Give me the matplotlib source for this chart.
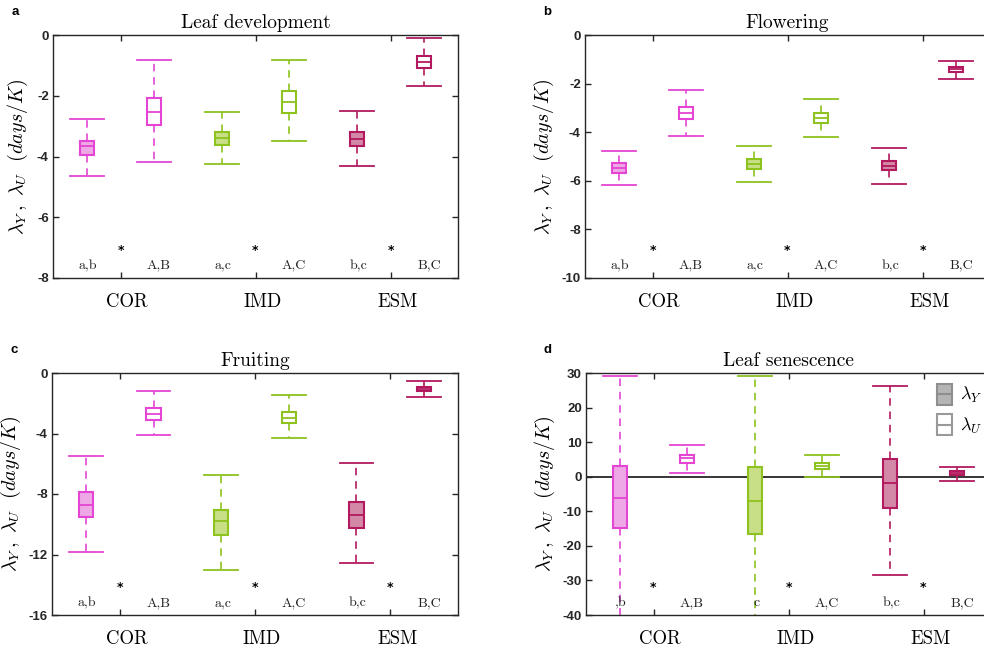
import matplotlib
matplotlib.use("Agg")
import matplotlib.pyplot as plt
from matplotlib.patches import Rectangle, Patch
from matplotlib.lines import Line2D
from matplotlib.legend_handler import HandlerBase
import matplotlib.transforms as mtransforms

plt.rcParams['mathtext.fontset'] = 'cm'
plt.rcParams['axes.unicode_minus'] = False

# Regions, one box pair (lambda_Y, lambda_U) per region
regions = ['COR', 'IMD', 'ESM']

# Box order: COR-Y, COR-U, IMD-Y, IMD-U, ESM-Y, ESM-U
leaf_dev_low  = [-4.64, -4.19, -4.25, -3.50, -4.30, -1.67]
leaf_dev_q1   = [-3.96, -2.96, -3.62, -2.57, -3.65, -1.10]
leaf_dev_med  = [-3.67, -2.52, -3.40, -2.20, -3.43, -0.89]
leaf_dev_q3   = [-3.48, -2.06, -3.18, -1.84, -3.19, -0.68]
leaf_dev_high = [-2.77, -0.82, -2.53, -0.82, -2.51, -0.11]

flower_low  = [-6.17, -4.16, -6.06, -4.18, -6.12, -1.80]
flower_q1   = [-5.67, -3.46, -5.51, -3.61, -5.57, -1.52]
flower_med  = [-5.49, -3.22, -5.31, -3.40, -5.38, -1.41]
flower_q3   = [-5.28, -2.98, -5.12, -3.22, -5.20, -1.33]
flower_high = [-4.76, -2.26, -4.57, -2.65, -4.63, -1.06]

fruit_low  = [-11.85, -4.07, -13.05, -4.31, -12.59, -1.58]
fruit_q1   = [-9.52, -3.08, -10.70, -3.32, -10.26, -1.21]
fruit_med  = [-8.70, -2.68, -9.80, -2.95, -9.36, -1.05]
fruit_q3   = [-7.85, -2.31, -9.08, -2.55, -8.51, -0.92]
fruit_high = [-5.49, -1.21, -6.73, -1.43, -5.93, -0.55]

senes_low  = [-45.0, 1.15, -46.0, -0.19, -28.56, -1.15]
senes_q1   = [-14.9, 4.04, -16.5, 2.12, -9.04, 0.38]
senes_med  = [-6.06, 5.38, -6.92, 2.98, -1.83, 1.06]
senes_q3   = [2.98, 6.35, 2.79, 3.85, 5.19, 1.54]
senes_high = [29.1, 9.23, 29.0, 6.15, 26.25, 2.88]

# Group letters below the boxes
letters_Y = ['a,b', 'a,c', 'b,c']
letters_U = ['A,B', 'A,C', 'B,C']
letters_Y_senes = [',b', 'c', 'b,c']

region_edge = ['#E445D4', '#8DC21F', '#B3195E']
region_fill = ['#EEA8E6', '#C8DF86', '#D488A8']

panels = [
    dict(tag='a', title='Leaf development',
         stats=(leaf_dev_low, leaf_dev_q1, leaf_dev_med, leaf_dev_q3, leaf_dev_high),
         ylim=(-8, 0), yticks=[-8, -6, -4, -2, 0], lettersY=letters_Y,
         pos=(53, 35, 405, 243), labx=23),
    dict(tag='b', title='Flowering',
         stats=(flower_low, flower_q1, flower_med, flower_q3, flower_high),
         ylim=(-10, 0), yticks=[-10, -8, -6, -4, -2, 0], lettersY=letters_Y,
         pos=(585, 35, 405, 243), labx=29),
    dict(tag='c', title='Fruiting',
         stats=(fruit_low, fruit_q1, fruit_med, fruit_q3, fruit_high),
         ylim=(-16, 0), yticks=[-16, -12, -8, -4, 0], lettersY=letters_Y,
         pos=(52, 373, 406, 242), labx=29),
    dict(tag='d', title='Leaf senescence',
         stats=(senes_low, senes_q1, senes_med, senes_q3, senes_high),
         ylim=(-40, 30), yticks=[-40, -30, -20, -10, 0, 10, 20, 30], lettersY=letters_Y_senes,
         pos=(586, 373, 405, 242), labx=29),
]

W, H = 984, 655
fig = plt.figure(figsize=(W / 100, H / 100), dpi=100)


class BoxLegendHandler(HandlerBase):
    def create_artists(self, legend, orig_handle, xdescent, ydescent,
                       width, height, fontsize, trans):
        fc = orig_handle.get_facecolor()
        ec = orig_handle.get_edgecolor()
        rect = Rectangle((-xdescent, -ydescent), width, height, facecolor=fc,
                         edgecolor=ec, lw=1.5, transform=trans)
        mid = Line2D([-xdescent, -xdescent + width], [height / 2 - ydescent] * 2,
                     color=ec, lw=1.5, transform=trans)
        return [rect, mid]


positions = [1, 2, 3, 4, 5, 6]
serif = 'cmr10'

for p in panels:
    x0, y0, w, h = p['pos']
    ax = fig.add_axes([x0 / W, 1 - (y0 + h) / H, w / W, h / H])
    lo, q1, med, q3, hi = p['stats']
    stats = [dict(whislo=lo[i], q1=q1[i], med=med[i], q3=q3[i], whishi=hi[i], fliers=[])
             for i in range(6)]
    bp = ax.bxp(stats, positions=positions, widths=0.21, capwidths=0.5,
                patch_artist=True, showfliers=False, manage_ticks=False)
    for i in range(6):
        r = i // 2
        col = region_edge[r]
        filled = (i % 2 == 0)
        box = bp['boxes'][i]
        box.set_facecolor(region_fill[r] if filled else 'white')
        box.set_edgecolor(col)
        box.set_linewidth(1.5)
        bp['medians'][i].set_color(col)
        bp['medians'][i].set_linewidth(1.3)
        for k in (2 * i, 2 * i + 1):
            bp['whiskers'][k].set_color(col)
            bp['whiskers'][k].set_linestyle((0, (4.5, 3.5)))
            bp['whiskers'][k].set_linewidth(1.2)
            bp['caps'][k].set_color(col)
            bp['caps'][k].set_linewidth(1.3)

    if p['tag'] == 'd':
        ax.axhline(0, color='black', lw=1.1, zorder=1.5)

    ax.set_xlim(0.5, 6.5)
    ax.set_ylim(*p['ylim'])
    ax.set_yticks(p['yticks'])
    ax.set_yticklabels([str(t) for t in p['yticks']], fontfamily='Liberation Sans',
                       fontweight='bold', fontsize=9.5, color='#262626')
    ax.set_xticks([1.5, 3.5, 5.5])
    ax.set_xticklabels([])
    ax.tick_params(direction='in', top=True, right=True, length=4, width=1,
                   color='#262626', pad=3)
    for s in ax.spines.values():
        s.set_color('#262626')
        s.set_linewidth(1.0)

    tr = mtransforms.blended_transform_factory(ax.transData, ax.transAxes)
    for j, reg in enumerate(regions):
        xc = 2 * j + 1.5
        ax.text(xc + 0.1, -0.099, reg, transform=tr, ha='center', va='center',
                fontfamily=serif, fontsize=13.5, color='black')
        ax.text(xc, 0.115, '*', transform=tr, ha='center', va='center',
                fontfamily='DejaVu Sans', fontweight='bold', fontsize=9, color='black')
        ax.text(2 * j + 1 + 0.02, 0.05, p['lettersY'][j], transform=tr, ha='center',
                va='center', fontfamily=serif, fontsize=10, color='#222222', zorder=3)
        ax.text(2 * j + 2 + 0.07, 0.05, letters_U[j], transform=tr, ha='center',
                va='center', fontfamily=serif, fontsize=10, color='#222222', zorder=3)

    ax.set_title(p['title'], fontfamily=serif, fontsize=14, pad=5)
    ax.set_ylabel(r'$\lambda_Y\,,\ \lambda_U\ \ (days/K)$', fontsize=14.5)
    ax.yaxis.set_label_coords(-p['labx'] / w, 0.5)

    fig.text((x0 - 38) / W, 1 - (y0 - 23) / H, p['tag'], fontfamily='Liberation Sans',
             fontweight='bold', fontsize=9.5, ha='center', va='center')

    if p['tag'] == 'd':
        handles = [Patch(facecolor='#B4B4B4', edgecolor='#8E8E8E'),
                   Patch(facecolor='white', edgecolor='#9A9A9A')]
        ax.legend(handles, [r'$\lambda_Y$', r'$\lambda_U$'],
                  handler_map={Patch: BoxLegendHandler()},
                  loc='upper left', bbox_to_anchor=(0.867, 0.955), frameon=False,
                  borderpad=0, borderaxespad=0, handlelength=0.8, handleheight=1.4,
                  handletextpad=0.45, labelspacing=0.5, fontsize=13)

fig.savefig('out.png', dpi=100)
